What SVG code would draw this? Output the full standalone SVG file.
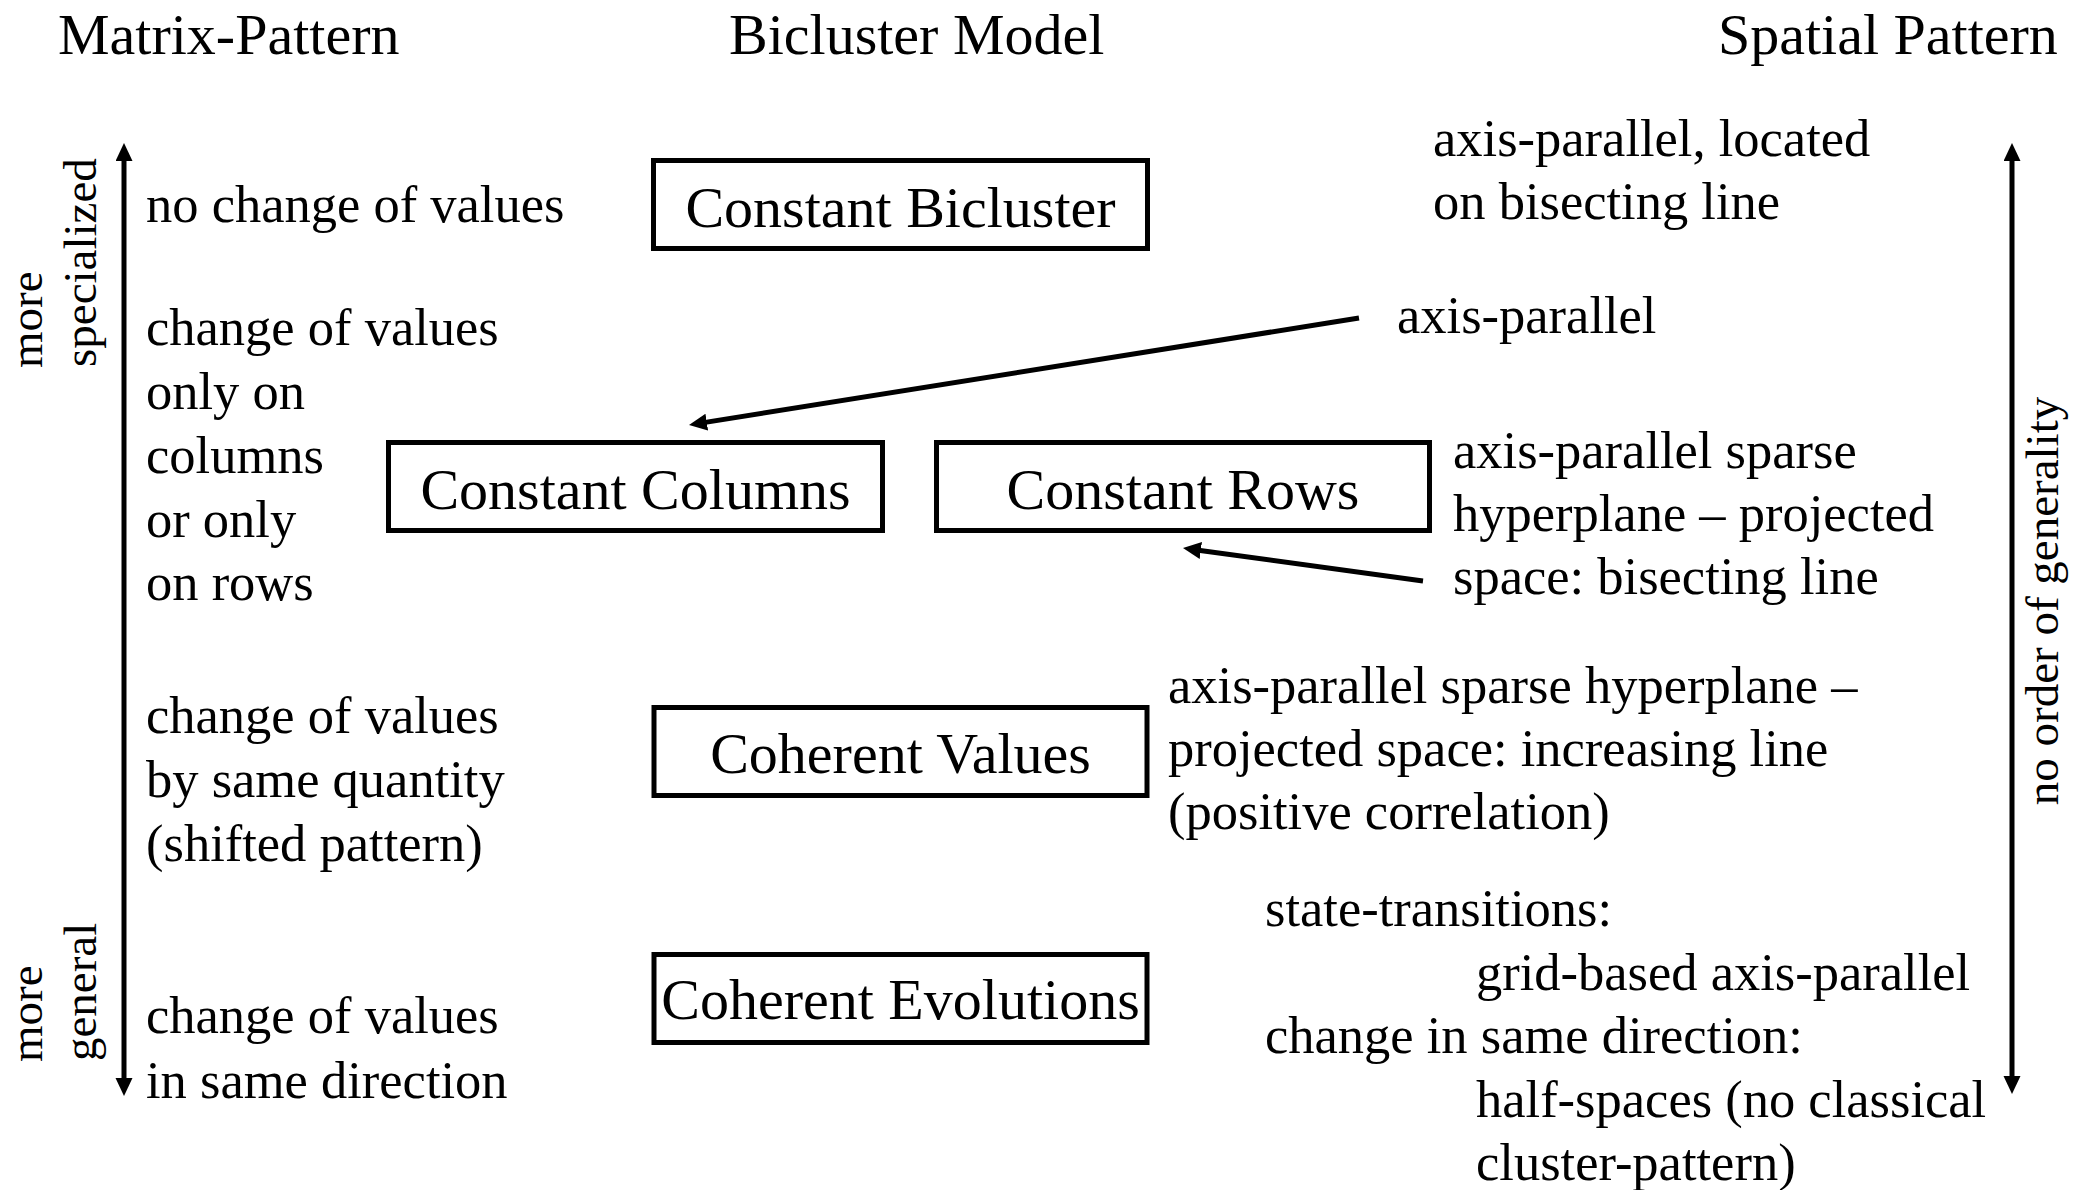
<svg xmlns="http://www.w3.org/2000/svg" width="2090" height="1190" viewBox="0 0 2090 1190">
<style>
text{font-family:"Liberation Serif","Times New Roman",serif;fill:#000}
.h{font-size:58px}
.b{font-size:52.5px}
.r{font-size:47px}
.box rect{fill:#fff;stroke:#000;stroke-width:5}
.box text{font-size:58px;text-anchor:middle}
.c{stroke:#000;stroke-width:5;fill:none}
</style>
<defs>
<marker id="ah" markerUnits="userSpaceOnUse" markerWidth="20" markerHeight="19" refX="8" refY="8.5" orient="auto-start-reverse">
<path d="M0,0 L18,8.5 L0,17 z" fill="#000"/>
</marker>
</defs>
<rect width="2090" height="1190" fill="#fff"/>
<g id="headers">
<text class="h" x="58" y="54">Matrix-Pattern</text>
<text class="h" x="729" y="54">Bicluster Model</text>
<text class="h" x="1718" y="54">Spatial Pattern</text>
</g>
<g id="axis-left">
<text class="r" transform="translate(42,368) rotate(-90)">more</text>
<text class="r" transform="translate(96,367) rotate(-90)">specialized</text>
<text class="r" transform="translate(42,1062) rotate(-90)">more</text>
<text class="r" transform="translate(96,1061) rotate(-90)">general</text>
</g>
<g id="axis-right">
<text class="r" text-anchor="middle" transform="translate(2058,601) rotate(-90)">no order of generality</text>
</g>
<g id="matrix-texts">
<text class="b" x="146" y="222">no change of values</text>
<text class="b" x="146" y="345">change of values</text>
<text class="b" x="146" y="409">only on</text>
<text class="b" x="146" y="473">columns</text>
<text class="b" x="146" y="537">or only</text>
<text class="b" x="146" y="600">on rows</text>
<text class="b" x="146" y="733">change of values</text>
<text class="b" x="146" y="797">by same quantity</text>
<text class="b" x="146" y="861">(shifted pattern)</text>
<text class="b" x="146" y="1033">change of values</text>
<text class="b" x="146" y="1098">in same direction</text>
</g>
<g id="node-constant-bicluster" class="box">
<rect x="653.5" y="160.5" width="494" height="88"/>
<text x="900.5" y="227">Constant Bicluster</text>
</g>
<g id="node-constant-columns" class="box">
<rect x="388.5" y="442.5" width="494" height="88"/>
<text x="635.5" y="509">Constant Columns</text>
</g>
<g id="node-constant-rows" class="box">
<rect x="936.5" y="442.5" width="493" height="88"/>
<text x="1183" y="509">Constant Rows</text>
</g>
<g id="node-coherent-values" class="box">
<rect x="654" y="707.5" width="493" height="88"/>
<text x="900.5" y="773">Coherent Values</text>
</g>
<g id="node-coherent-evolutions" class="box">
<rect x="654" y="954.5" width="493" height="88"/>
<text x="900.5" y="1019">Coherent Evolutions</text>
</g>
<g id="spatial-texts">
<text class="b" x="1433" y="156">axis-parallel, located</text>
<text class="b" x="1433" y="219">on bisecting line</text>
<text class="b" x="1397" y="333">axis-parallel</text>
<text class="b" x="1453" y="468">axis-parallel sparse</text>
<text class="b" x="1453" y="531">hyperplane – projected</text>
<text class="b" x="1453" y="594">space: bisecting line</text>
<text class="b" x="1168" y="703">axis-parallel sparse hyperplane –</text>
<text class="b" x="1168" y="766">projected space: increasing line</text>
<text class="b" x="1168" y="829">(positive correlation)</text>
<text class="b" x="1265" y="926">state-transitions:</text>
<text class="b" x="1476" y="990">grid-based axis-parallel</text>
<text class="b" x="1265" y="1053">change in same direction:</text>
<text class="b" x="1476" y="1117">half-spaces (no classical</text>
<text class="b" x="1476" y="1180">cluster-pattern)</text>
</g>
<g id="connectors">
<line class="c" x1="124" y1="1086" x2="124" y2="153" marker-start="url(#ah)" marker-end="url(#ah)"/>
<line class="c" x1="2012" y1="1084" x2="2012" y2="153" marker-start="url(#ah)" marker-end="url(#ah)"/>
<line class="c" x1="1359" y1="318" x2="698.9" y2="423.4" marker-end="url(#ah)"/>
<line class="c" x1="1423" y1="581" x2="1192.9" y2="549.4" marker-end="url(#ah)"/>
</g>
</svg>
